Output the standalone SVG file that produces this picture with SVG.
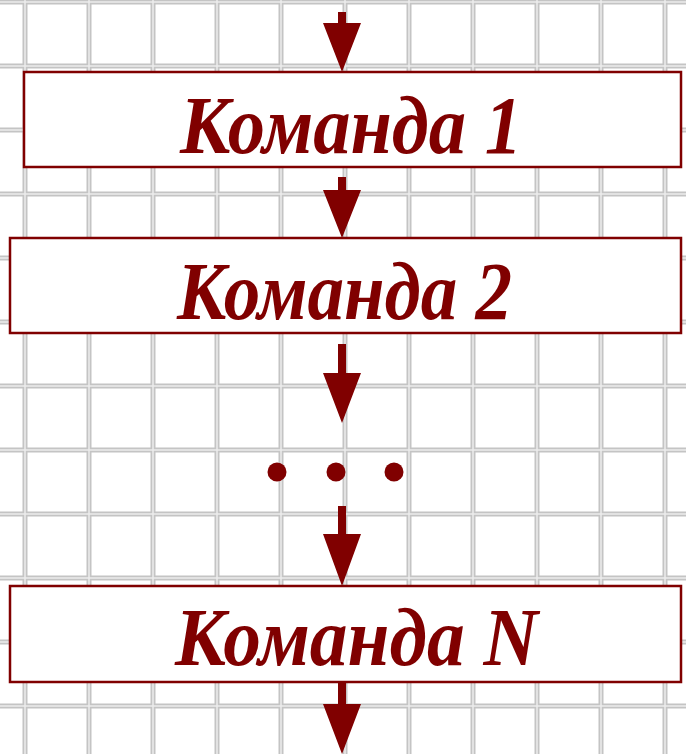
<svg xmlns="http://www.w3.org/2000/svg" width="686" height="754" viewBox="0 0 686 754">
<defs>
<style>
.g{stroke:#c4c4c4;stroke-width:5;fill:none}
.gi{stroke:#ececec;stroke-width:1.5;fill:none}
.box{fill:#fff;stroke:#800000;stroke-width:2.5}
.t{font-family:"Liberation Serif","Times New Roman",serif;font-weight:bold;font-style:italic;font-size:83px;fill:#800000}
.a{fill:#800000}
</style>
<path id="grid" d="M25 0V754M89 0V754M153 0V754M217 0V754M281 0V754M345 0V754M409 0V754M473 0V754M537 0V754M601 0V754M665 0V754M0 2H686M0 66H686M0 130H686M0 194H686M0 258H686M0 322H686M0 386H686M0 450H686M0 514H686M0 578H686M0 642H686M0 706H686"/>
</defs>
<g id="background">
<rect width="686" height="754" fill="#fff"/>
<use href="#grid" class="g"/>
<use href="#grid" class="gi"/>
</g>
<g id="connectors">
<path class="a" d="M338 12H346V23H361L342 72L323 23H338Z"/>
<path class="a" d="M338 177H346V190H361L342 238L323 190H338Z"/>
<path class="a" d="M338 344H346V373H361L342 423L323 373H338Z"/>
<path class="a" d="M338 506H346V534H361L342 586L323 534H338Z"/>
<path class="a" d="M338 677H346V704H361L342 754L323 704H338Z"/>
</g>
<g id="node1">
<rect class="box" x="24" y="72" width="657" height="95"/>
<text class="t" x="180" y="153" textLength="342" lengthAdjust="spacingAndGlyphs">Команда 1</text>
</g>
<g id="node2">
<rect class="box" x="10" y="238" width="671" height="95"/>
<text class="t" x="177" y="319" textLength="335" lengthAdjust="spacingAndGlyphs">Команда 2</text>
</g>
<g id="dots">
<circle class="a" cx="277" cy="472" r="9.5"/>
<circle class="a" cx="336" cy="472" r="9.5"/>
<circle class="a" cx="394" cy="472" r="9.5"/>
</g>
<g id="nodeN">
<rect class="box" x="10" y="586" width="671" height="96"/>
<text class="t" x="175" y="665" textLength="363" lengthAdjust="spacingAndGlyphs">Команда N</text>
</g>
</svg>
